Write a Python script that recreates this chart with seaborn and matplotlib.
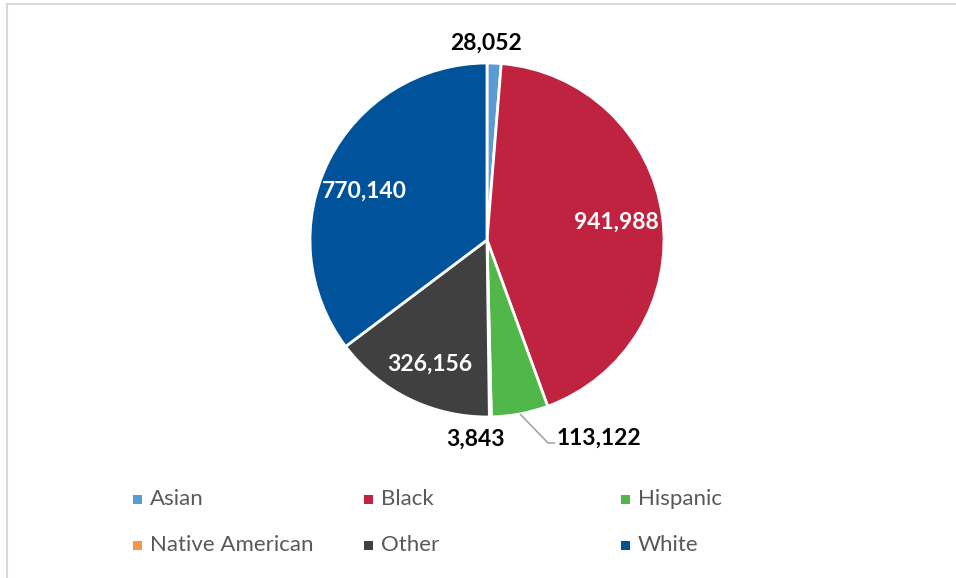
import numpy as np
import matplotlib
matplotlib.use("Agg")
import matplotlib.pyplot as plt
from matplotlib.patches import Rectangle
from matplotlib.lines import Line2D
import seaborn as sns

categories = ["Asian", "Black", "Hispanic", "Native American", "Other", "White"]
values = [28052, 941988, 113122, 3843, 326156, 770140]
value_labels = ["28,052", "941,988", "113,122", "3,843", "326,156", "770,140"]
colors = ["#5B9BD5", "#C0233F", "#50B848", "#F79646", "#404040", "#00539B"]

sns.set_theme(style="white")
plt.rcParams["font.family"] = ["Lato", "DejaVu Sans"]

W, H = 956, 578
fig = plt.figure(figsize=(W / 100, H / 100), dpi=100)
fig.patch.set_facecolor("white")

# frame lines (top and left) like the source
fig.add_artist(Line2D([6.5 / W, 1], [1 - 3.5 / H, 1 - 3.5 / H], color="#D9D9D9", lw=1.5))
fig.add_artist(Line2D([6.5 / W, 6.5 / W], [0, 1 - 3.5 / H], color="#D9D9D9", lw=1.5))

cx, cy, R = 487, 240, 177
ax = fig.add_axes([(cx - R) / W, (H - cy - R) / H, 2 * R / W, 2 * R / H])

palette = sns.color_palette(colors)
wedges, _ = ax.pie(values, colors=palette, startangle=90, counterclock=False,
                   radius=1.0, wedgeprops=dict(edgecolor="white", linewidth=2))
ax.set_xlim(-1, 1)
ax.set_ylim(-1, 1)
ax.set_aspect("equal")
ax.axis("off")

# label layout: (radius factor, text colour, angle shift in degrees)
layout = {
    "Asian": (1.11, "black", 2.5),
    "Black": (0.74, "white", 0),
    "Hispanic": None,
    "Native American": (1.13, "black", -4.5),
    "Other": (0.77, "white", 1.5),
    "White": (0.745, "white", 5),
}
lab_fs = 16.5
for w, cat, lab in zip(wedges, categories, value_labels):
    mid = np.deg2rad((w.theta1 + w.theta2) / 2)
    spec = layout[cat]
    if spec is None:
        # callout with leader line
        x0, y0 = np.cos(mid), np.sin(mid)
        ex, ey = 0.345, -1.147
        ax.plot([x0, ex, ex + 0.04], [y0, ey, ey], color="#A6A6A6", lw=1.2,
                clip_on=False, solid_capstyle="butt")
        ax.text(ex + 0.05, ey + 0.03, lab, ha="left", va="center", fontsize=lab_fs,
                fontweight="bold", color="black", clip_on=False)
        continue
    r, col, shift = spec
    a = mid + np.deg2rad(shift)
    ax.text(r * np.cos(a), r * np.sin(a), lab, ha="center", va="center",
            fontsize=lab_fs, fontweight="bold", color=col, clip_on=False)

# legend: 3 columns x 2 rows
col_x = [137, 368, 625]
row_y = [499, 545]
sq = 9
for i, (cat, c) in enumerate(zip(categories, palette)):
    r_i, c_i = divmod(i, 3)
    mx, my = col_x[c_i], row_y[r_i]
    fig.patches.append(Rectangle(((mx - sq / 2) / W, 1 - (my + sq / 2) / H), sq / W, sq / H,
                                 transform=fig.transFigure, facecolor=c, edgecolor="none"))
    fig.text((mx + 13) / W, 1 - my / H, cat, ha="left", va="center", fontsize=16,
             color="#595959")

fig.savefig("out.png", dpi=100, facecolor="white")
